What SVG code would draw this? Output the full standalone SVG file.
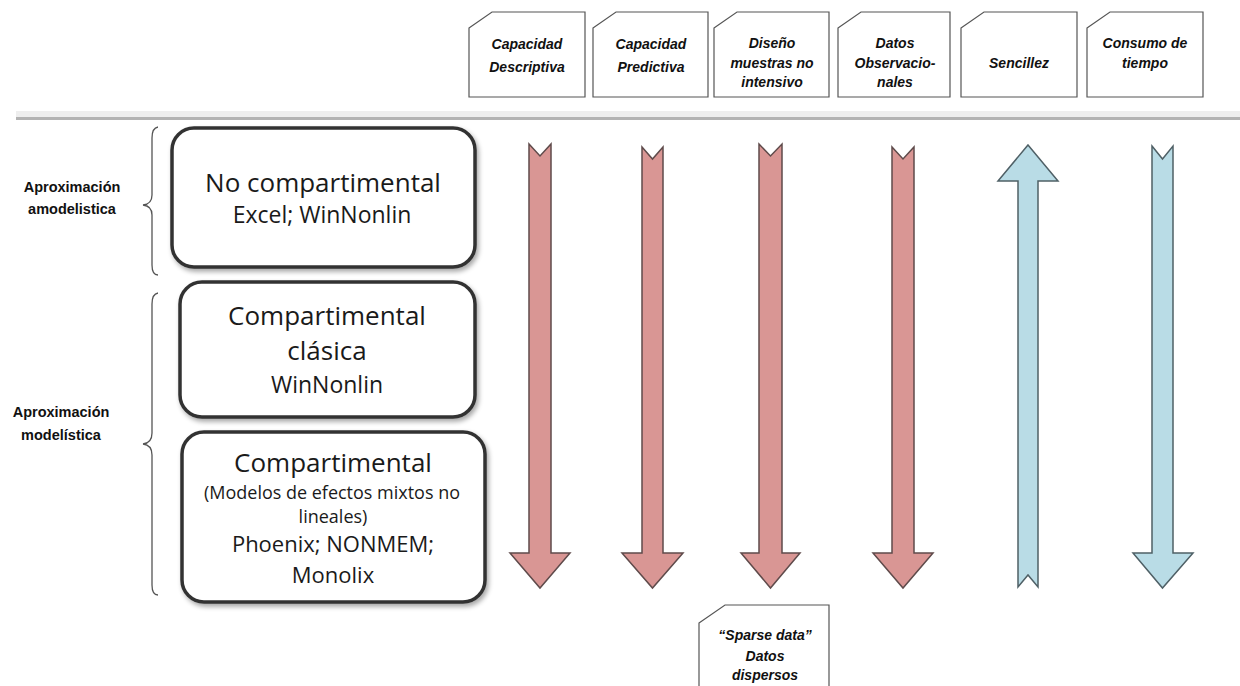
<svg xmlns="http://www.w3.org/2000/svg" width="1240" height="686" viewBox="0 0 1240 686">
<defs>
<style>
.card{fill:#fff;stroke:#555;stroke-width:1.2}
.ct{font-family:"Liberation Sans",Arial,sans-serif;font-weight:bold;font-style:italic;font-size:14px;fill:#111;text-anchor:middle}
.lab{font-family:"Liberation Sans",Arial,sans-serif;font-weight:bold;font-size:14.5px;fill:#111;text-anchor:middle}
.box{fill:#fff;stroke:#333;stroke-width:3.5}
.bt{font-family:"Open Sans","Liberation Sans",sans-serif;fill:#1a1a1a;text-anchor:middle}
.brace{fill:none;stroke:#555;stroke-width:1.3}
.red{fill:#d99694;stroke:#5f4b4b;stroke-width:1.5;stroke-linejoin:miter}
.blue{fill:#b9dce6;stroke:#4f6066;stroke-width:1.5;stroke-linejoin:miter}
</style>
<filter id="sh" x="-10%" y="-10%" width="125%" height="130%">
<feGaussianBlur in="SourceAlpha" stdDeviation="2.5"/>
<feOffset dx="2" dy="3" result="b"/>
<feComponentTransfer><feFuncA type="linear" slope="0.35"/></feComponentTransfer>
<feMerge><feMergeNode/><feMergeNode in="SourceGraphic"/></feMerge>
</filter>
</defs>
<rect width="1240" height="686" fill="#fff"/>

<!-- header cards -->
<g id="card-descriptiva"><path class="card" d="M469,28 L492,12 L585,12 L585,97 L469,97 Z"/><text class="ct" x="527" y="49">Capacidad</text><text class="ct" x="527" y="72">Descriptiva</text></g>
<g id="card-predictiva"><path class="card" d="M593,28 L616,12 L708,12 L708,97 L593,97 Z"/><text class="ct" x="651" y="49">Capacidad</text><text class="ct" x="651" y="72">Predictiva</text></g>
<g id="card-diseno"><path class="card" d="M714,28 L737,12 L829,12 L829,97 L714,97 Z"/><text class="ct" x="772" y="48">Diseño</text><text class="ct" x="772" y="68">muestras no</text><text class="ct" x="772" y="87">intensivo</text></g>
<g id="card-datos"><path class="card" d="M838,28 L861,12 L950,12 L950,97 L838,97 Z"/><text class="ct" x="895" y="48">Datos</text><text class="ct" x="895" y="68">Observacio-</text><text class="ct" x="895" y="87">nales</text></g>
<g id="card-sencillez"><path class="card" d="M961,28 L984,12 L1077,12 L1077,97 L961,97 Z"/><text class="ct" x="1019" y="68">Sencillez</text></g>
<g id="card-consumo"><path class="card" d="M1087,28 L1110,12 L1203,12 L1203,97 L1087,97 Z"/><text class="ct" x="1145" y="48">Consumo de</text><text class="ct" x="1145" y="68">tiempo</text></g>

<!-- separator -->
<rect x="16" y="111" width="1224" height="6" fill="#eeeeee"/>
<line x1="16" y1="118.5" x2="1240" y2="118.5" stroke="#b3b3b3" stroke-width="3"/>

<!-- left labels and braces -->
<g id="label-amodelistica"><text class="lab" x="72" y="192">Aproximación</text><text class="lab" x="72" y="214">amodelistica</text>
<path class="brace" d="M158,127 Q152,128 152,138 L152,195 Q152,204 143,205 Q152,206 152,215 L152,265 Q152,275 158,275"/></g>
<g id="label-modelistica"><text class="lab" x="61" y="417">Aproximación</text><text class="lab" x="61" y="440">modelística</text>
<path class="brace" d="M158,293 Q152,294 152,304 L152,433 Q152,443 143,444 Q152,445 152,455 L152,585 Q152,595 158,595"/></g>

<!-- boxes -->
<g id="box-nocomp"><rect class="box" filter="url(#sh)" x="172" y="128" width="303" height="139" rx="22"/>
<text class="bt" x="323" y="192" font-size="26">No compartimental</text>
<text class="bt" x="322" y="223" font-size="23">Excel; WinNonlin</text></g>
<g id="box-clasica"><rect class="box" filter="url(#sh)" x="180" y="282" width="295" height="135" rx="22"/>
<text class="bt" x="327" y="325" font-size="26">Compartimental</text>
<text class="bt" x="327" y="360" font-size="26">clásica</text>
<text class="bt" x="327" y="393" font-size="23">WinNonlin</text></g>
<g id="box-mixtos"><rect class="box" filter="url(#sh)" x="182" y="432" width="303" height="170" rx="22"/>
<text class="bt" x="333" y="472" font-size="26">Compartimental</text>
<text class="bt" x="332" y="499" font-size="18" textLength="256" lengthAdjust="spacingAndGlyphs">(Modelos de efectos mixtos no</text>
<text class="bt" x="333" y="523" font-size="18">lineales)</text>
<text class="bt" x="333" y="552" font-size="22">Phoenix; NONMEM;</text>
<text class="bt" x="333" y="583" font-size="22">Monolix</text></g>

<!-- arrows -->
<g id="connectors">
<path class="red" d="M529,144 L540,156 L551,144 L551,553 L570,553 L540,588 L510,553 L529,553 Z"/>
<path class="red" d="M642,147 L652.5,159 L663,147 L663,553 L683,553 L652.5,588 L622,553 L642,553 Z"/>
<path class="red" d="M759,144 L770.5,156 L782,144 L782,553 L800,553 L770.5,588 L741,553 L759,553 Z"/>
<path class="red" d="M892,147 L903,159 L914,147 L914,553 L933,553 L903,588 L873,553 L892,553 Z"/>
<path class="blue" d="M1028,145 L1058,181 L1038,181 L1038,587 L1028,575 L1018,587 L1018,181 L998,181 Z"/>
<path class="blue" d="M1152,146 L1162.5,159 L1173,146 L1173,553 L1193,553 L1162.5,588 L1133,553 L1152,553 Z"/>
</g>

<!-- bottom card -->
<g id="card-sparse"><path class="card" d="M699,623 L725,605 L829,605 L829,690 L699,690 Z"/>
<text class="ct" x="765" y="640" font-size="15">“Sparse data”</text>
<text class="ct" x="765" y="661" font-size="15">Datos</text>
<text class="ct" x="765" y="680" font-size="15">dispersos</text></g>
</svg>
